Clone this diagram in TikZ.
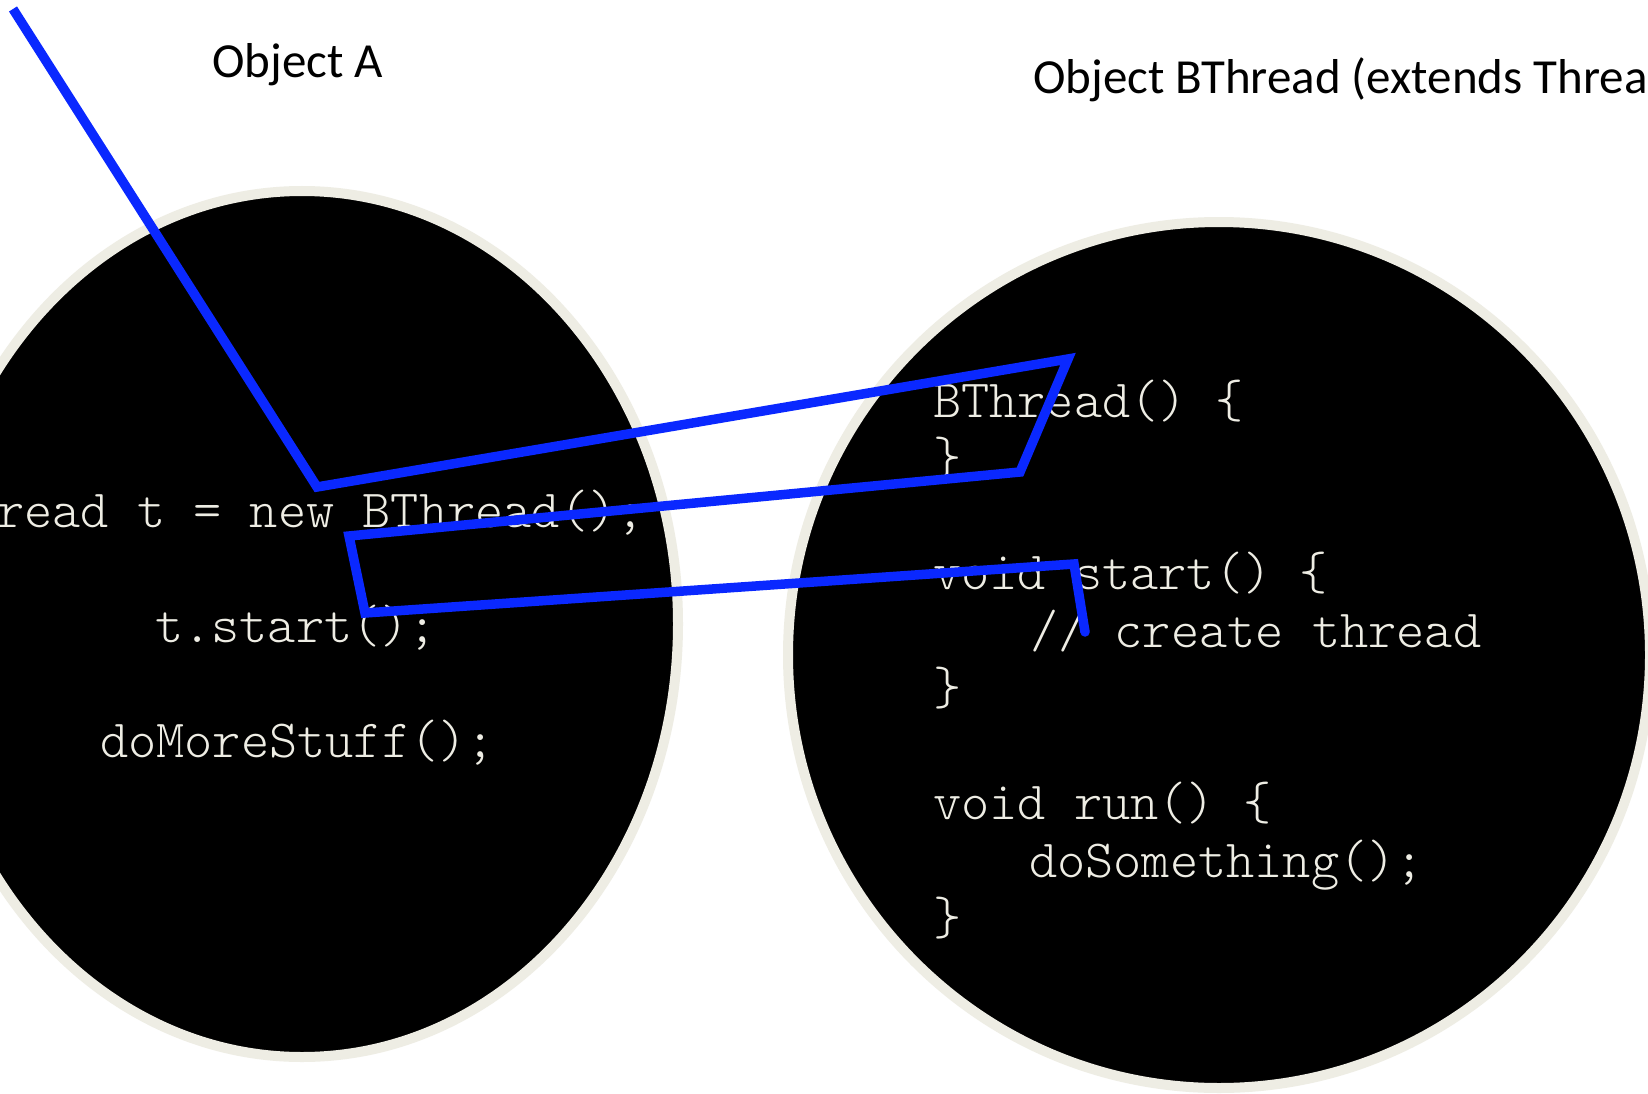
\documentclass[tikz,border=0pt]{standalone}
\usepackage{fontspec}
\setmainfont{Carlito}
\newfontfamily\codefont{Latin Modern Mono Light}
\definecolor{rim}{RGB}{238,237,228}
\definecolor{pen}{RGB}{10,40,255}
\begin{document}
\begin{tikzpicture}[x=1pt,y=-1pt,
  blob/.style={draw=rim,line width=10pt,fill=black},
  heading/.style={anchor=base west,inner sep=0pt,font=\fontsize{49}{58}\selectfont},
  codeline/.style={anchor=base west,inner sep=0pt,text=rim,font=\codefont\fontsize{53.7}{60}\selectfont},
  wire/.style={draw=pen,line width=9.5pt,line join=miter}]
\useasboundingbox (0,0) rectangle (1648,1094);
\clip (0,0) rectangle (1648,1094);
\fill[white] (0,0) rectangle (1648,1094);
% objects
\draw[blob] (302,624) ellipse [x radius=376, y radius=433];
\draw[blob] (1219,655) ellipse [x radius=431, y radius=433];
% headings
\node[heading] (ta) at (212,78) {Object A};
\node[heading] (tb) at (1033,94) {Object BThread (extends Thread};
% code of A
\node[codeline] (a1) at (-4,527.5) {read t = new BThread();};
\node[codeline] (a2) at (155,642) {t.start();};
\node[codeline] (a3) at (100,757) {doMoreStuff();};
% code of BThread
\node[codeline] (b1) at (933,417) {BThread() \{};
\node[codeline] (b2) at (933,474.5) {\}};
\node[codeline] (b3) at (933,589.5) {void start() \{};
\node[codeline] (b4) at (1030,647) {// create thread};
\node[codeline] (b5) at (933,704.5) {\}};
\node[codeline] (b6) at (933,819.5) {void run() \{};
\node[codeline] (b7) at (1029,877) {doSomething();};
\node[codeline] (b8) at (933,934.5) {\}};
% control flow path
\coordinate (p1) at (13,9);
\coordinate (p2) at (317,487);
\coordinate (p3) at (1068,359);
\coordinate (p4) at (1020,472);
\coordinate (p5) at (349,536);
\coordinate (p6) at (365,613);
\coordinate (p7) at (1074,564);
\coordinate (p8) at (1085,632);
\draw[wire] (p1) -- (p2) -- (p3) -- (p4) -- (p5) -- (p6) -- (p7) -- (p8);
\fill[pen] (p8) circle (4.75);
\end{tikzpicture}
\end{document}
